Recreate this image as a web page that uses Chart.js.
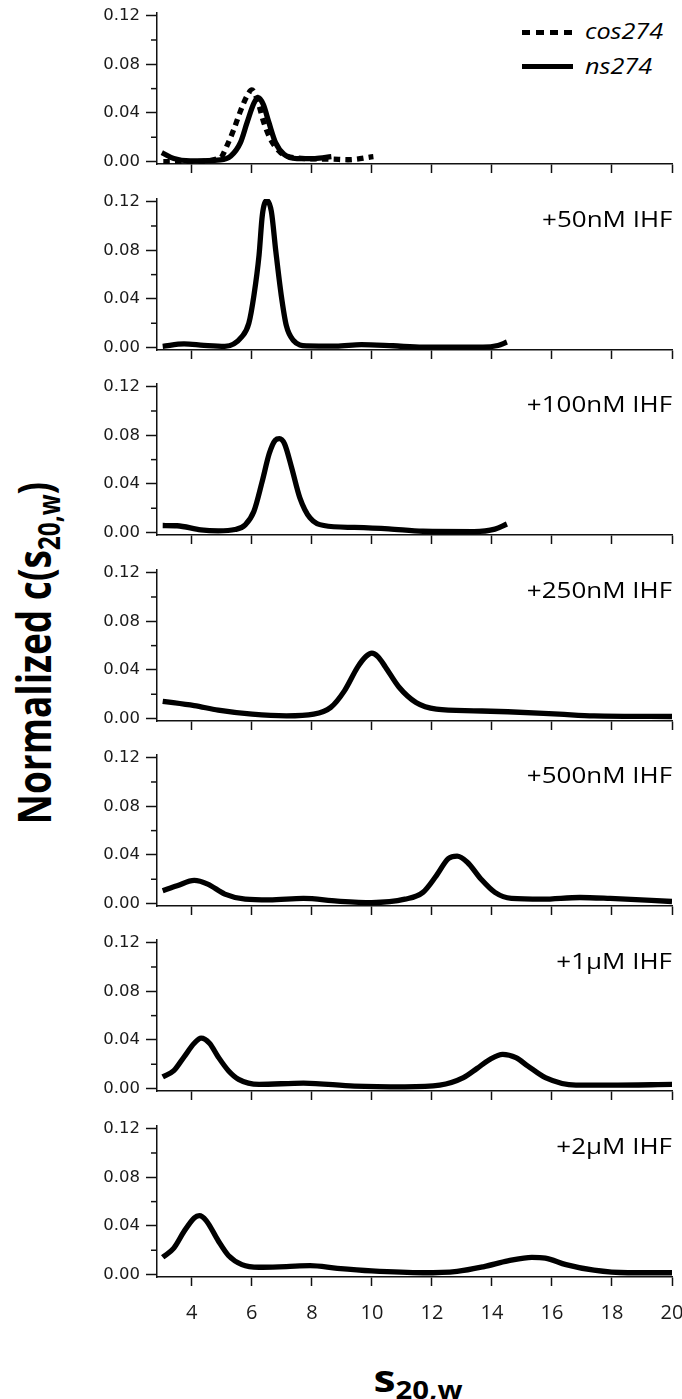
<!DOCTYPE html>
<html>
<head>
<meta charset="utf-8">
<title>Normalized c(s) distributions</title>
<script src="https://cdn.jsdelivr.net/npm/chart.js"></script>
<style>
  body { margin: 0; background: #fff; }
  #figure { position: relative; width: 682px; height: 1399px; overflow: hidden; font-family: "Open Sans", sans-serif; color: #000; }
  #figure canvas { position: absolute; left: 0; }
  .tag { position: absolute; right: 10px; font-size: 22px; line-height: 22px; white-space: nowrap; transform: scaleX(1.18); transform-origin: right center; }
  .sample { position: absolute; left: 522px; width: 51px; height: 5px; }
  .sample.dashed { background: repeating-linear-gradient(90deg, #000 0 8px, transparent 8px 14px); }
  .sample.solid { background: #000; }
  .name { position: absolute; left: 585px; font-style: italic; font-size: 21px; line-height: 21px; white-space: nowrap; transform: scaleX(1.2); transform-origin: left center; }
  #ytitle { position: absolute; left: 33px; top: 653px; font-weight: 700; font-size: 37px; line-height: 1; white-space: nowrap; transform: translate(-50%, -50%) rotate(-90deg) scaleY(1.25); }
  #xtitle { position: absolute; left: 418px; top: 1377px; font-weight: 700; font-size: 37px; line-height: 1; white-space: nowrap; transform: translate(-50%, -50%) scaleX(1.2); }
  sub { font-size: 0.66em; vertical-align: -0.3em; line-height: 0; }
</style>
</head>
<body>
<div id="figure">
  <div class="sample dashed" style="top:29.5px"></div>
  <div class="name" style="top:21.4px">cos274</div>
  <div class="sample solid" style="top:64.2px"></div>
  <div class="name" style="top:56.4px">ns274</div>
  <div id="ytitle">Normalized c(s<sub>20,w</sub>)</div>
  <div id="xtitle">s<sub>20,w</sub></div>
</div>
<script>
  const xTicks = [4, 6, 8, 10, 12, 14, 16, 18, 20];
  const yTicks = [0, 0.04, 0.08, 0.12];
  const yMinorTicks = [0.02, 0.06, 0.10];

  // free DNA
  const sCos274 = [3.05, 3.95, 4.95, 5.17, 5.4, 5.62, 5.84, 6.0, 6.18, 6.4, 6.63, 6.96, 7.5, 8.65, 9.2, 10.05];
  const cCos274 = [0.0, 0.0, 0.003, 0.013, 0.0265, 0.0415, 0.054, 0.059, 0.051, 0.032, 0.018, 0.0074, 0.003, 0.002, 0.0015, 0.004];
  const sNs274 = [3.0, 3.4, 3.95, 4.95, 5.3, 5.62, 5.84, 6.07, 6.21, 6.38, 6.57, 6.79, 7.07, 7.5, 8.1, 8.65];
  const cNs274 = [0.0074, 0.0025, 0.0006, 0.0014, 0.0046, 0.0156, 0.032, 0.048, 0.0525, 0.047, 0.032, 0.0156, 0.006, 0.0025, 0.0025, 0.004];

  // ns274 with increasing IHF
  const s50nM = [3.03, 3.74, 4.4, 5.1, 5.67, 5.9, 6.07, 6.24, 6.35, 6.5, 6.65, 6.8, 6.98, 7.15, 7.38, 7.83, 8.8, 9.65, 10.7, 11.7, 13.7, 14.2, 14.5];
  const c50nM = [0.001, 0.003, 0.0018, 0.001, 0.009, 0.02, 0.043, 0.076, 0.109, 0.121, 0.112, 0.079, 0.043, 0.018, 0.006, 0.0014, 0.0012, 0.0025, 0.0015, 0.0003, 0.0003, 0.0017, 0.0045];
  const s100nM = [3.03, 3.51, 4.3, 4.88, 5.44, 5.78, 6.07, 6.35, 6.58, 6.78, 6.92, 7.09, 7.32, 7.6, 7.94, 8.4, 9.42, 10.56, 11.7, 13.4, 14.1, 14.5];
  const c100nM = [0.0058, 0.0056, 0.0022, 0.0014, 0.0025, 0.0064, 0.0175, 0.0425, 0.065, 0.076, 0.0773, 0.073, 0.054, 0.0286, 0.012, 0.0058, 0.0042, 0.003, 0.0011, 0.0008, 0.0028, 0.007];
  const s250nM = [3.03, 4.08, 4.88, 6.01, 7.15, 8.06, 8.63, 9.09, 9.53, 9.8, 10.0, 10.2, 10.45, 10.9, 11.47, 12.15, 13.4, 14.53, 16.24, 17.4, 20];
  const c250nM = [0.0142, 0.0106, 0.007, 0.0036, 0.0022, 0.0036, 0.0092, 0.023, 0.0425, 0.051, 0.0538, 0.051, 0.0425, 0.026, 0.0133, 0.0078, 0.0064, 0.0056, 0.0036, 0.0022, 0.0017];
  const s500nM = [3.03, 3.51, 4.08, 4.53, 5.1, 5.78, 6.58, 7.72, 8.85, 9.99, 11.1, 11.7, 12.15, 12.55, 12.84, 13.18, 13.64, 14.1, 14.65, 15.67, 16.93, 17.94, 20];
  const c500nM = [0.0106, 0.0147, 0.019, 0.016, 0.0078, 0.0036, 0.003, 0.0042, 0.002, 0.0008, 0.0036, 0.0092, 0.023, 0.037, 0.039, 0.034, 0.020, 0.0092, 0.0042, 0.0036, 0.005, 0.0042, 0.0017];
  const s1uM = [3.03, 3.4, 3.74, 4.08, 4.31, 4.59, 4.88, 5.22, 5.56, 6.24, 7.72, 9.42, 11.1, 12.26, 13.05, 13.5, 13.9, 14.36, 14.8, 15.2, 15.78, 16.8, 17.94, 20];
  const c1uM = [0.0096, 0.0147, 0.026, 0.0373, 0.0415, 0.0373, 0.026, 0.0147, 0.0076, 0.0034, 0.0045, 0.002, 0.0014, 0.0028, 0.009, 0.0165, 0.0235, 0.0282, 0.0255, 0.0185, 0.009, 0.0028, 0.0028, 0.0034];
  const s2uM = [3.03, 3.4, 3.74, 4.08, 4.25, 4.48, 4.88, 5.22, 5.67, 6.24, 7.15, 7.94, 8.85, 9.99, 11.7, 12.84, 13.74, 14.53, 15.33, 15.78, 16.47, 17.4, 18.53, 20];
  const c2uM = [0.0142, 0.0218, 0.0354, 0.0466, 0.0484, 0.0444, 0.0278, 0.0157, 0.0082, 0.006, 0.0066, 0.0073, 0.0051, 0.003, 0.0015, 0.0027, 0.0066, 0.0112, 0.0142, 0.0136, 0.0082, 0.0036, 0.0015, 0.0015];

  const panelLabels = ['', '+50nM IHF', '+100nM IHF', '+250nM IHF', '+500nM IHF', '+1µM IHF', '+2µM IHF'];

  const pts = (s, c) => s.map((x, i) => ({ x: x, y: c[i] }));

  const panels = [
    [{ data: pts(sNs274, cNs274) }, { data: pts(sCos274, cCos274), borderDash: [6.5, 5.2] }],
    [{ data: pts(s50nM, c50nM) }],
    [{ data: pts(s100nM, c100nM) }],
    [{ data: pts(s250nM, c250nM) }],
    [{ data: pts(s500nM, c500nM) }],
    [{ data: pts(s1uM, c1uM) }],
    [{ data: pts(s2uM, c2uM) }]
  ];

  const AXIS = '#111';
  const TEXT = '#1a1a1a';
  const STEP = 185.4;     // vertical distance between stacked panels
  const TOP0 = 16;        // pixel row of 0.12 on the first panel
  const PAD_TOP = 14;
  const PLOT_H = 151;

  // short ticks at 0.02, 0.06, 0.10
  const minorTicks = {
    id: 'minorTicks',
    afterDraw(chart) {
      const y = chart.scales.y, ctx = chart.ctx, left = chart.chartArea.left;
      ctx.save();
      ctx.strokeStyle = AXIS;
      ctx.lineWidth = 1.5;
      yMinorTicks.forEach(v => {
        const py = y.getPixelForValue(v);
        ctx.beginPath();
        ctx.moveTo(left - 6, py);
        ctx.lineTo(left, py);
        ctx.stroke();
      });
      ctx.restore();
    }
  };

  const fig = document.getElementById('figure');

  panels.forEach((sets, k) => {
    const last = k === panels.length - 1;
    const xh = last ? 56 : 12;
    const canvas = document.createElement('canvas');
    canvas.width = 682;
    canvas.height = PAD_TOP + PLOT_H + xh;
    canvas.style.top = Math.round(TOP0 + STEP * k - 2.7 - PAD_TOP) + 'px';
    fig.appendChild(canvas);

    new Chart(canvas, {
      type: 'line',
      data: {
        datasets: sets.map(d => Object.assign({
          borderColor: '#000',
          borderWidth: 5.3,
          pointRadius: 0,
          fill: false,
          cubicInterpolationMode: 'monotone',
          borderCapStyle: 'butt',
          borderJoinStyle: 'round'
        }, d))
      },
      options: {
        responsive: false,
        animation: false,
        devicePixelRatio: 1,
        layout: { padding: { left: 80, right: 10, top: PAD_TOP, bottom: 0 } },
        plugins: { legend: { display: false }, tooltip: { enabled: false } },
        scales: {
          x: {
            type: 'linear',
            min: 2.84,
            max: 20,
            afterBuildTicks: s => { s.ticks = xTicks.map(v => ({ value: v })); },
            afterFit: s => { s.height = xh; s.paddingLeft = 0; s.paddingRight = 0; },
            border: { color: AXIS, width: 1.5 },
            grid: { drawOnChartArea: false, tickLength: 9, tickWidth: 1.5, tickColor: AXIS },
            ticks: {
              display: last,
              color: TEXT,
              padding: 15,
              maxRotation: 0,
              font: { family: 'Open Sans', size: 20 },
              callback: v => String(v)
            }
          },
          y: {
            min: -0.002,
            max: 0.1222,
            afterBuildTicks: s => { s.ticks = yTicks.map(v => ({ value: v })); },
            afterFit: s => { s.width = 77; s.paddingTop = 0; s.paddingBottom = 0; },
            border: { color: AXIS, width: 1.5 },
            grid: { drawOnChartArea: false, tickLength: 11, tickWidth: 1.5, tickColor: AXIS },
            ticks: {
              color: TEXT,
              padding: 6,
              font: { family: 'DejaVu Sans', size: 16.5 },
              callback: v => v.toFixed(2)
            }
          }
        }
      },
      plugins: [minorTicks]
    });

    if (panelLabels[k]) {
      const tag = document.createElement('div');
      tag.className = 'tag';
      tag.textContent = panelLabels[k];
      tag.style.top = (TOP0 + STEP * k + 5.5) + 'px';
      fig.appendChild(tag);
    }
  });
</script>
</body>
</html>
